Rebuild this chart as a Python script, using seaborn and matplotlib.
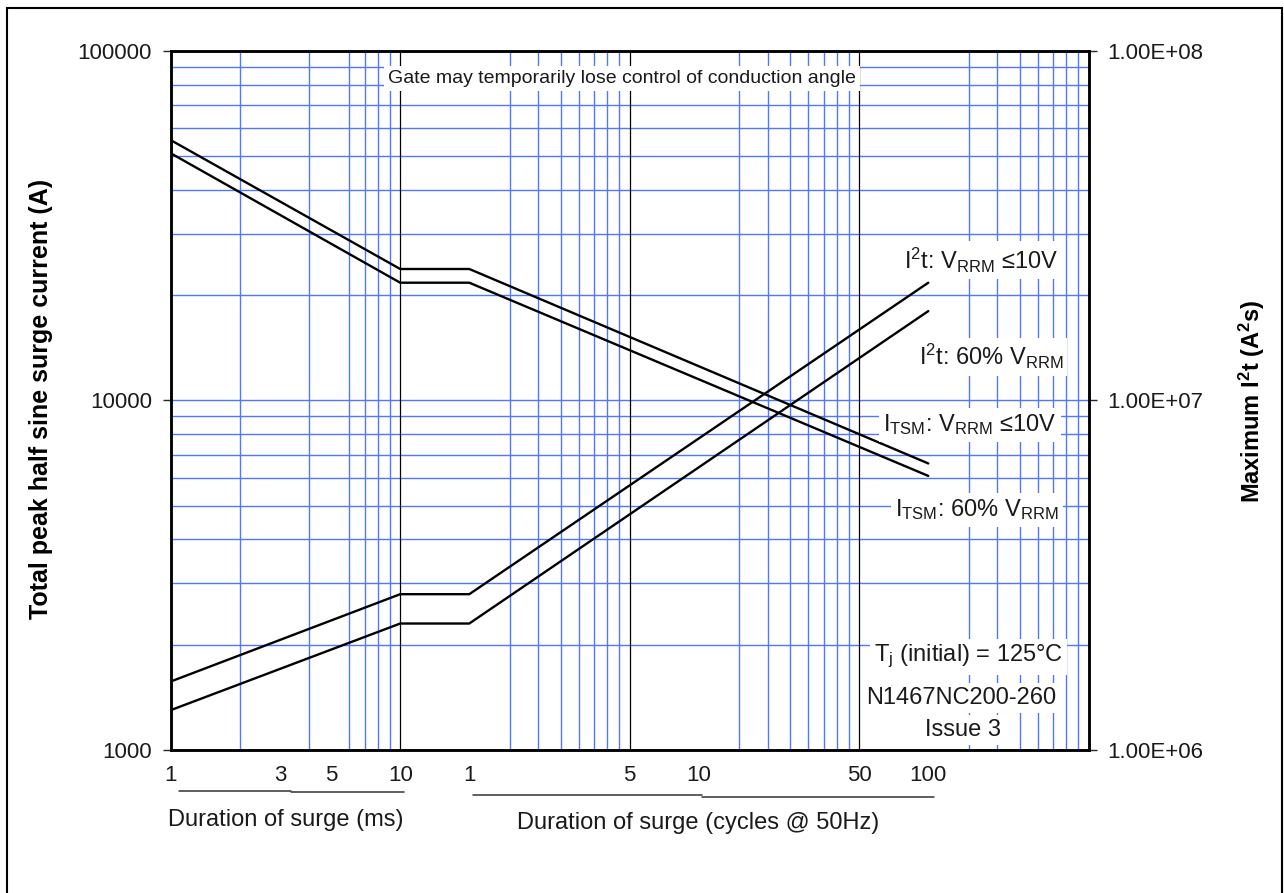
import numpy as np
import pandas as pd
import matplotlib
matplotlib.use("Agg")
import matplotlib.pyplot as plt
import seaborn as sns
from matplotlib.ticker import LogLocator, NullFormatter, NullLocator
from matplotlib.transforms import blended_transform_factory
from matplotlib.patches import Rectangle

# ---------------- data ----------------
duration_ms = [1, 10, 20, 2000]
itsm_10v = [55500, 23750, 23750, 6600]
itsm_60 = [50900, 21700, 21700, 6080]
i2t_10v = [1.57e6, 2.79e6, 2.79e6, 2.17e7]
i2t_60 = [1.30e6, 2.30e6, 2.30e6, 1.80e7]

x_tick_ms = [1, 3, 5, 10, 20, 100, 200, 1000, 2000]
x_tick_labels = ["1", "3", "5", "10", "1", "5", "10", "50", "100"]
decade_lines_ms = [10, 100, 1000]
y_left_ticks = [1000, 10000, 100000]
y_left_labels = ["1000", "10000", "100000"]
y_right_ticks = [1e6, 1e7, 1e8]
y_right_labels = ["1.00E+06", "1.00E+07", "1.00E+08"]
underline_ms = [1.09, 3.33, 10.4]
underline_cycles = [20.7, 207, 2120]

# ---------------- style ----------------
sns.set_style("white")
plt.rcParams["font.family"] = ["Liberation Sans", "DejaVu Sans"]
plt.rcParams["mathtext.fontset"] = "custom"
plt.rcParams["mathtext.rm"] = "Liberation Sans"
plt.rcParams["mathtext.it"] = "Liberation Sans"
plt.rcParams["mathtext.bf"] = "Liberation Sans:bold"

BLUE = "#4f78ff"
TXT = "#1a1a1a"

fig = plt.figure(figsize=(12.84, 8.93), dpi=100)
L, R, B, T = 170.7, 1088.7, 750.0, 50.7
W, H = 1284.0, 893.0
ax = fig.add_axes([L / W, 1 - B / H, (R - L) / W, (B - T) / H])

df_itsm = pd.DataFrame({
    "duration": duration_ms * 2,
    "value": itsm_10v + itsm_60,
    "series": ["ITSM 10V"] * 4 + ["ITSM 60%"] * 4,
})
df_i2t = pd.DataFrame({
    "duration": duration_ms * 2,
    "value": i2t_10v + i2t_60,
    "series": ["I2t 10V"] * 4 + ["I2t 60%"] * 4,
})

ax.set_xscale("log")
ax.set_yscale("log")
sns.lineplot(data=df_itsm, x="duration", y="value", units="series",
             estimator=None, sort=False, color="black", lw=1.7, ax=ax, zorder=3)
ax.set_xlim(1, 10000)
ax.set_ylim(1000, 100000)

ax2 = ax.twinx()
ax2.set_yscale("log")
sns.lineplot(data=df_i2t, x="duration", y="value", units="series",
             estimator=None, sort=False, color="black", lw=1.7, ax=ax2, zorder=3)
ax2.set_ylim(1e6, 1e8)
ax2.set_xlim(1, 10000)

# grid
ax.xaxis.set_minor_locator(LogLocator(base=10, subs=np.arange(2, 10), numticks=30))
ax.yaxis.set_minor_locator(LogLocator(base=10, subs=np.arange(2, 10), numticks=30))
ax.xaxis.set_minor_formatter(NullFormatter())
ax.yaxis.set_minor_formatter(NullFormatter())
ax.set_xticks(x_tick_ms, x_tick_labels)
ax.set_yticks(y_left_ticks, y_left_labels)
ax.grid(False)
ax.grid(True, which="minor", axis="both", color=BLUE, lw=1.0)
ax.grid(True, which="major", axis="y", color=BLUE, lw=1.0)
ax.set_axisbelow(True)
for v in decade_lines_ms:
    ax.axvline(v, color="black", lw=0.9, zorder=1)

ax.tick_params(axis="x", which="major", length=0, pad=11, labelsize=16, labelcolor=TXT)
ax.tick_params(axis="y", which="major", length=5.5, width=1, pad=8,
               direction="out", labelsize=16, labelcolor=TXT, left=True)
ax.tick_params(which="minor", length=0)

ax2.set_yticks(y_right_ticks, y_right_labels)
ax2.yaxis.set_minor_locator(NullLocator())
ax2.tick_params(axis="y", which="major", length=5.5, width=1, pad=8,
                direction="out", labelsize=16, labelcolor=TXT, right=True)
ax2.grid(False)

for a in (ax, ax2):
    for s in a.spines.values():
        s.set_linewidth(1.8)
        s.set_color("black")
        s.set_visible(True)

ax.set_xlabel("")
ax.set_ylabel("Total peak half sine surge current (A)", fontsize=18,
              fontweight="bold", va="center", color="black")
ax.yaxis.set_label_coords(-0.1413, 0.5027)
ax2.set_ylabel(r"Maximum I$^\mathbf{2}$t (A$^\mathbf{2}$s)", fontsize=17,
               fontweight="bold", va="center", color="black")
ax2.yaxis.set_label_coords(1.1776, 0.498)

# ---------------- annotations ----------------
box = dict(facecolor="white", edgecolor="none", pad=3)
ann_kw = dict(transform=ax.transAxes, fontsize=17, color=TXT, zorder=10, bbox=box)
ax2.text(0.4916, 0.9606, "Gate may temporarily lose control of conduction angle",
         ha="center", va="center", **{**ann_kw, "fontsize": 14})
ax2.text(0.9666, 0.7007, "I$^\\mathregular{2}$t: V$_\\mathregular{RRM}$ \u226410V",
         ha="right", va="center", **ann_kw)
ax2.text(0.9720, 0.5624, r"I$^\mathregular{2}$t: 60% V$_\mathregular{RRM}$",
         ha="right", va="center", **ann_kw)
ax2.text(0.9651, 0.4648, "I$_\\mathregular{TSM}$: V$_\\mathregular{RRM}$ \u226410V",
         ha="right", va="center", **ann_kw)
ax2.text(0.9677, 0.3432, r"I$_\mathregular{TSM}$: 60% V$_\mathregular{RRM}$",
         ha="right", va="center", **ann_kw)
ax2.text(0.9720, 0.1334, "T$_\\mathregular{j}$ (initial) = 125\u00b0C",
         ha="right", va="center", **ann_kw)
ax2.text(0.8614, 0.0744, "N1467NC200-260", ha="center", va="center", **ann_kw)
ax2.text(0.8630, 0.0286, "Issue 3", ha="center", va="center", **ann_kw)

# x-axis group labels and underlines
fig.text(285.4 / W, 1 - 820 / H, "Duration of surge (ms)", ha="center", va="center",
         fontsize=17, color=TXT)
fig.text(698 / W, 1 - 823 / H, "Duration of surge (cycles @ 50Hz)", ha="center",
         va="center", fontsize=17, color=TXT)
tr = blended_transform_factory(ax.transData, fig.transFigure)
ax.plot(underline_ms[0:2], [1 - 790.7 / H] * 2, transform=tr, clip_on=False, color="#333333", lw=1.1)
ax.plot(underline_ms[1:3], [1 - 792.2 / H] * 2, transform=tr, clip_on=False, color="#333333", lw=1.1)
ax.plot(underline_cycles[0:2], [1 - 794.7 / H] * 2, transform=tr, clip_on=False, color="#333333", lw=1.1)
ax.plot(underline_cycles[1:3], [1 - 796.8 / H] * 2, transform=tr, clip_on=False, color="#333333", lw=1.1)

# outer frame of the figure panel
fig.patches.append(Rectangle((6.7 / W, -0.05), (1281.7 - 6.7) / W, 1 - 8 / H + 0.05,
                             transform=fig.transFigure, fill=False,
                             edgecolor="black", lw=1.5))

fig.savefig("out.png", dpi=100)
